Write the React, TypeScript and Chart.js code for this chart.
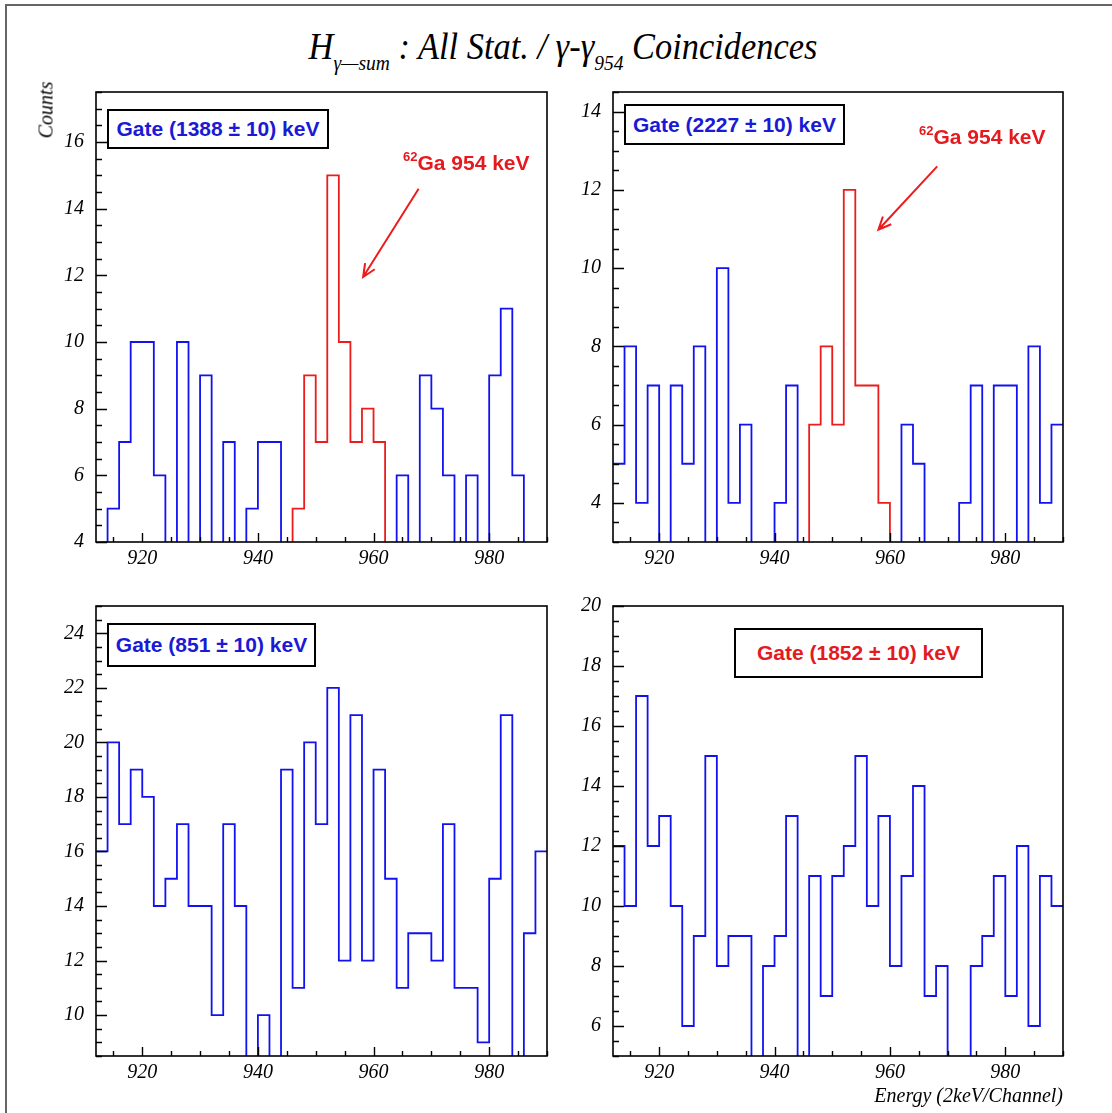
import React, { useEffect, useRef } from "react";
import { Chart, registerables } from "chart.js";

Chart.register(...registerables);

// ---------- data ----------
const binStart = 912; // keV, left edge of first channel
const binWidth = 2; // keV per channel
const energyMin = 912;
const energyMax = 990;
const energyTicks = [920, 940, 960, 980];
const energyMinorStep = 5;
const countsMinorStep = 0.5;

// counts per 2 keV channel, channels 912..988 keV (values under the axis minimum are estimates)
const gate1388Counts = [3, 5, 7, 10, 10, 6, 3, 10, 3, 9, 3, 7, 3, 5, 7, 7, 3, 5, 9, 7, 15, 10, 7, 8, 7, 3, 6, 3, 9, 8, 6, 3, 6, 3, 9, 11, 6, 3, 3];
const gate2227Counts = [5, 8, 4, 7, 2, 7, 5, 8, 2, 10, 4, 6, 2, 2, 4, 7, 2, 6, 8, 6, 12, 7, 7, 4, 2, 6, 5, 2, 2, 2, 4, 7, 2, 7, 7, 2, 8, 4, 6];
const gate851Counts = [16, 20, 17, 19, 18, 14, 15, 17, 14, 14, 10, 17, 14, 8, 10, 8, 19, 11, 20, 17, 22, 12, 21, 12, 19, 15, 11, 13, 13, 12, 17, 11, 11, 9, 15, 21, 8, 13, 16];
const gate1852Counts = [12, 10, 17, 12, 13, 10, 6, 9, 15, 8, 9, 9, 4, 8, 9, 13, 4, 11, 7, 11, 12, 15, 10, 13, 8, 11, 14, 7, 8, 4, 4, 8, 9, 11, 7, 12, 6, 11, 10];

// first and last channel (keV) of the highlighted 954 keV peak
const gate1388Peak: [number, number] = [946, 960];
const gate2227Peak: [number, number] = [946, 958];

const gate1388YTicks = [4, 6, 8, 10, 12, 14, 16];
const gate2227YTicks = [4, 6, 8, 10, 12, 14];
const gate851YTicks = [10, 12, 14, 16, 18, 20, 22, 24];
const gate1852YTicks = [6, 8, 10, 12, 14, 16, 18, 20];

const gate1388YRange: [number, number] = [4, 17.5];
const gate2227YRange: [number, number] = [3, 14.5];
const gate851YRange: [number, number] = [8.5, 25];
const gate1852YRange: [number, number] = [5, 20];

// arrow annotations, in data coordinates [energy, counts]
const gate1388Arrow = { from: [967.8, 14.6], to: [958.2, 11.95] };
const gate2227Arrow = { from: [968.2, 12.6], to: [958.0, 10.98] };

const BLUE_LINE = "rgb(18,18,240)";
const RED_LINE = "rgb(236,28,28)";
const BLUE_TEXT = "rgb(26,26,214)";
const RED_TEXT = "rgb(228,26,30)";

const SERIF = "'Liberation Serif', 'DejaVu Serif', serif";
const SANS = "'Liberation Sans', Arial, sans-serif";

type Area = { left: number; top: number; right: number; bottom: number };

type PanelProps = {
  counts: number[];
  peak: [number, number] | null;
  yRange: [number, number];
  yTicks: number[];
  area: Area;
  arrow?: { from: number[]; to: number[] };
};

const PADL = 80;
const PADT = 16;
const PADR = 16;
const PADB = 44;

function Panel({ counts, peak, yRange, yTicks, area, arrow }: PanelProps) {
  const ref = useRef<HTMLCanvasElement | null>(null);
  const w = area.right - area.left + PADL + PADR;
  const h = area.bottom - area.top + PADT + PADB;

  useEffect(() => {
    if (!ref.current) return;
    const n = counts.length;
    const edge = (i: number) => binStart + i * binWidth;
    let rs = -1;
    let re = -1;
    if (peak) {
      rs = (peak[0] - binStart) / binWidth - 1;
      re = (peak[1] - binStart) / binWidth;
    }
    const blue: { x: number; y: number | null }[] = [];
    for (let i = 0; i < n; i++) {
      const inPeak = rs >= 0 && i > rs && i <= re;
      blue.push({ x: edge(i), y: inPeak ? null : counts[i] });
    }
    blue.push({ x: edge(n), y: counts[n - 1] });
    const red: { x: number; y: number }[] = [];
    if (rs >= 0) {
      for (let i = rs; i <= re; i++) red.push({ x: edge(i), y: counts[i] });
      red.push({ x: edge(re + 1), y: counts[re + 1] });
    }

    const datasets: any[] = [
      {
        data: blue,
        borderColor: BLUE_LINE,
        borderWidth: 1.8,
        stepped: true,
        pointRadius: 0,
        fill: false,
        spanGaps: false,
        order: 1,
      },
    ];
    if (red.length) {
      datasets.push({
        data: red,
        borderColor: RED_LINE,
        borderWidth: 1.8,
        stepped: true,
        pointRadius: 0,
        fill: false,
        order: 0,
      });
    }

    const [yMin, yMax] = yRange;
    const framePlugin = {
      id: "rootFrame",
      afterDatasetsDraw(chart: any) {
        const { ctx, chartArea: a, scales } = chart;
        const xs = scales.x;
        const ys = scales.y;
        ctx.save();
        ctx.strokeStyle = "#000";
        ctx.lineWidth = 1.4;
        ctx.beginPath();
        for (let v = yMin; v <= yMax + 1e-9; v += countsMinorStep) {
          const p = Math.round(ys.getPixelForValue(v)) + 0.5;
          const major = yTicks.some((t) => Math.abs(t - v) < 1e-6);
          ctx.moveTo(a.left, p);
          ctx.lineTo(a.left + (major ? 11 : 6), p);
        }
        for (let v = Math.ceil(energyMin / energyMinorStep) * energyMinorStep; v <= energyMax; v += energyMinorStep) {
          const p = Math.round(xs.getPixelForValue(v)) + 0.5;
          const major = energyTicks.includes(v);
          ctx.moveTo(p, a.bottom);
          ctx.lineTo(p, a.bottom - (major ? 9 : 5));
        }
        ctx.stroke();
        ctx.lineWidth = 1.6;
        ctx.strokeRect(a.left, a.top, a.right - a.left, a.bottom - a.top);
        if (arrow) {
          const x1 = xs.getPixelForValue(arrow.from[0]);
          const y1 = ys.getPixelForValue(arrow.from[1]);
          const x2 = xs.getPixelForValue(arrow.to[0]);
          const y2 = ys.getPixelForValue(arrow.to[1]);
          const ang = Math.atan2(y2 - y1, x2 - x1);
          const hl = 14;
          const spread = 0.42;
          ctx.strokeStyle = RED_LINE;
          ctx.lineWidth = 2;
          ctx.beginPath();
          ctx.moveTo(x1, y1);
          ctx.lineTo(x2, y2);
          ctx.moveTo(x2 - hl * Math.cos(ang - spread), y2 - hl * Math.sin(ang - spread));
          ctx.lineTo(x2, y2);
          ctx.lineTo(x2 - hl * Math.cos(ang + spread), y2 - hl * Math.sin(ang + spread));
          ctx.stroke();
        }
        ctx.restore();
      },
    };

    const tickFont = { family: SERIF, style: "italic" as const, size: 20 };

    const chart = new Chart(ref.current, {
      type: "line",
      data: { datasets },
      options: {
        animation: false,
        responsive: false,
        devicePixelRatio: 1,
        events: [],
        layout: { padding: { left: 0, top: PADT, right: PADR, bottom: 0 } },
        plugins: {
          legend: { display: false },
          tooltip: { enabled: false },
          title: { display: false },
        },
        elements: { line: { tension: 0 }, point: { radius: 0 } },
        scales: {
          x: {
            type: "linear",
            min: energyMin,
            max: energyMax,
            afterBuildTicks: (s: any) => {
              s.ticks = energyTicks.map((v) => ({ value: v }));
            },
            afterFit: (s: any) => {
              s.height = PADB;
            },
            ticks: {
              font: tickFont,
              color: "#000",
              padding: 5,
              maxRotation: 0,
              autoSkip: false,
              callback: (v: any) => String(v),
            },
            grid: { display: false, drawTicks: false, tickLength: 0 },
            border: { display: false },
          },
          y: {
            type: "linear",
            min: yMin,
            max: yMax,
            afterBuildTicks: (s: any) => {
              s.ticks = yTicks.map((v) => ({ value: v }));
            },
            afterFit: (s: any) => {
              s.width = PADL;
            },
            ticks: {
              font: tickFont,
              color: "#000",
              padding: 12,
              autoSkip: false,
              callback: (v: any) => String(v),
            },
            grid: { display: false, drawTicks: false, tickLength: 0 },
            border: { display: false },
          },
        },
      } as any,
      plugins: [framePlugin],
    });
    return () => chart.destroy();
  }, []);

  return (
    <canvas
      ref={ref}
      width={w}
      height={h}
      style={{ position: "absolute", left: area.left - PADL, top: area.top - PADT, width: w, height: h }}
    />
  );
}

function GateBox({ text, color, left, top, width, height }: { text: string; color: string; left: number; top: number; width: number; height: number }) {
  return (
    <div
      style={{
        position: "absolute",
        left,
        top,
        width,
        height,
        boxSizing: "border-box",
        border: "2px solid #000",
        background: "#fff",
        display: "flex",
        alignItems: "center",
        justifyContent: "center",
        fontFamily: SANS,
        fontWeight: "bold",
        fontSize: 21,
        color,
        whiteSpace: "nowrap",
      }}
    >
      {text}
    </div>
  );
}

function PeakLabel({ left, top }: { left: number; top: number }) {
  return (
    <div
      style={{
        position: "absolute",
        left,
        top,
        fontFamily: SANS,
        fontWeight: "bold",
        fontSize: 21,
        lineHeight: "21px",
        color: RED_TEXT,
        whiteSpace: "nowrap",
      }}
    >
      <span style={{ fontSize: 13, position: "relative", top: -9 }}>62</span>Ga 954 keV
    </div>
  );
}

export default function App() {
  return (
    <div
      style={{
        position: "absolute",
        left: 0,
        top: 0,
        width: 1112,
        height: 1113,
        background: "#fff",
        overflow: "hidden",
      }}
    >
      <div
        style={{
          position: "absolute",
          left: 5,
          top: 4,
          width: 1200,
          height: 1200,
          borderLeft: "2px solid #666",
          borderTop: "2px solid #666",
        }}
      />
      <div
        style={{
          position: "absolute",
          left: 0,
          top: 27,
          width: 1126,
          textAlign: "center",
          fontFamily: SERIF,
          fontStyle: "italic",
          fontSize: 37,
          lineHeight: "40px",
          whiteSpace: "nowrap",
          color: "#000",
          transform: "scaleX(0.93)",
          transformOrigin: "563px 0",
        }}
      >
        H<span style={{ fontSize: 21, position: "relative", top: 11 }}>γ—sum</span> : All Stat. / γ-γ
        <span style={{ fontSize: 21, position: "relative", top: 11 }}>954</span> Coincidences
      </div>

      <Panel
        counts={gate1388Counts}
        peak={gate1388Peak}
        yRange={gate1388YRange}
        yTicks={gate1388YTicks}
        area={{ left: 96, top: 84, right: 547, bottom: 542 }}
        arrow={gate1388Arrow}
      />
      <Panel
        counts={gate2227Counts}
        peak={gate2227Peak}
        yRange={gate2227YRange}
        yTicks={gate2227YTicks}
        area={{ left: 613, top: 84, right: 1063, bottom: 542 }}
        arrow={gate2227Arrow}
      />
      <Panel
        counts={gate851Counts}
        peak={null}
        yRange={gate851YRange}
        yTicks={gate851YTicks}
        area={{ left: 96, top: 598, right: 547, bottom: 1056 }}
      />
      <Panel
        counts={gate1852Counts}
        peak={null}
        yRange={gate1852YRange}
        yTicks={gate1852YTicks}
        area={{ left: 613, top: 598, right: 1063, bottom: 1056 }}
      />

      <GateBox text="Gate (1388 ± 10) keV" color={BLUE_TEXT} left={107} top={109} width={222} height={40} />
      <GateBox text="Gate (2227 ± 10) keV" color={BLUE_TEXT} left={624} top={104} width={221} height={41} />
      <GateBox text="Gate (851 ± 10) keV" color={BLUE_TEXT} left={107} top={623} width={209} height={44} />
      <GateBox text="Gate (1852 ± 10) keV" color={RED_TEXT} left={734} top={628} width={249} height={50} />

      <PeakLabel left={403} top={152} />
      <PeakLabel left={919} top={126} />

      <div
        style={{
          position: "absolute",
          left: 46,
          top: 110,
          transform: "translate(-50%, -50%) rotate(-90deg)",
          fontFamily: SERIF,
          fontStyle: "italic",
          fontSize: 20,
          whiteSpace: "nowrap",
          color: "#000",
        }}
      >
        Counts
      </div>
      <div
        style={{
          position: "absolute",
          left: 763,
          top: 1084,
          width: 300,
          textAlign: "right",
          fontFamily: SERIF,
          fontStyle: "italic",
          fontSize: 20,
          lineHeight: "22px",
          whiteSpace: "nowrap",
          color: "#000",
        }}
      >
        Energy (2keV/Channel)
      </div>
    </div>
  );
}
